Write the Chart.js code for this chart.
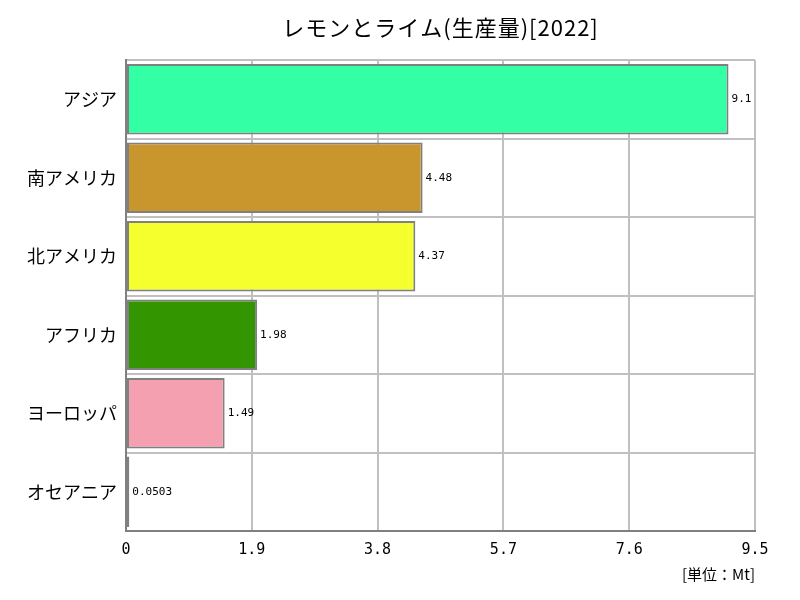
<!DOCTYPE html>
<html>
<head>
<meta charset="utf-8">
<script src="https://cdn.jsdelivr.net/npm/chart.js@4/dist/chart.umd.min.js"></script>
<style>
  html, body { margin: 0; padding: 0; background: #fff; }
  #wrap { width: 800px; height: 600px; }
</style>
</head>
<body>
<div id="wrap"><canvas id="chart"></canvas></div>
<script>
const categories = ["アジア", "南アメリカ", "北アメリカ", "アフリカ", "ヨーロッパ", "オセアニア"];
const values = [9.1, 4.48, 4.37, 1.98, 1.49, 0.0503];
const barColors = ["#33ffa5", "#c8962d", "#f5ff2d", "#339600", "#f5a0b0", "#5a78a0"];
const xTicks = [0, 1.9, 3.8, 5.7, 7.6, 9.5];

const FONT = "'Noto Sans CJK JP', 'Noto Sans', sans-serif";
const MONO = "'DejaVu Sans Mono', 'Liberation Mono', monospace";

// title over the plot area, value labels at bar ends, unit label
const labelPlugin = {
  id: "labels",
  afterDatasetsDraw(chart) {
    const ctx = chart.ctx;
    const area = chart.chartArea;
    const meta = chart.getDatasetMeta(0);
    ctx.save();
    ctx.fillStyle = "#000";
    ctx.font = "11px " + MONO;
    ctx.textAlign = "left";
    ctx.textBaseline = "middle";
    meta.data.forEach((bar, i) => {
      ctx.fillText(String(values[i]), bar.x + 3, bar.y);
    });

    ctx.font = "15px " + FONT;
    ctx.textAlign = "right";
    ctx.fillText("[単位：Mt]", area.right, area.bottom + 43);

    ctx.font = "22px " + FONT;
    ctx.letterSpacing = "1px";
    ctx.textAlign = "center";
    ctx.fillText("レモンとライム(生産量)[2022]", (area.left + area.right) / 2, 28);
    ctx.restore();
  }
};

new Chart(document.getElementById("chart"), {
  type: "bar",
  data: {
    labels: categories,
    datasets: [{
      data: values,
      backgroundColor: barColors,
      borderColor: "#808080",
      borderWidth: 2,
      borderSkipped: false,
      barPercentage: 0.9,
      categoryPercentage: 1.0
    }]
  },
  options: {
    indexAxis: "y",
    responsive: true,
    maintainAspectRatio: false,
    animation: false,
    layout: { padding: { left: 0, right: 45, top: 60, bottom: 31 } },
    plugins: {
      legend: { display: false },
      tooltip: { enabled: false },
      title: { display: false }
    },
    scales: {
      x: {
        min: 0,
        max: 9.5,
        afterBuildTicks(axis) {
          axis.ticks = xTicks.map(v => ({ value: v }));
        },
        ticks: {
          color: "#000",
          font: { family: MONO, size: 15 },
          padding: 10,
          callback: v => String(v)
        },
        grid: { color: "#c0c0c0", lineWidth: 2, drawTicks: false },
        border: { color: "#808080", width: 2 }
      },
      y: {
        afterFit(axis) { axis.width = 126; },
        ticks: {
          color: "#000",
          font: { family: FONT, size: 18 },
          padding: 9
        },
        grid: { color: "#c0c0c0", lineWidth: 2, drawTicks: false, offset: true },
        border: { color: "#808080", width: 2 }
      }
    }
  },
  plugins: [labelPlugin]
});
</script>
</body>
</html>
